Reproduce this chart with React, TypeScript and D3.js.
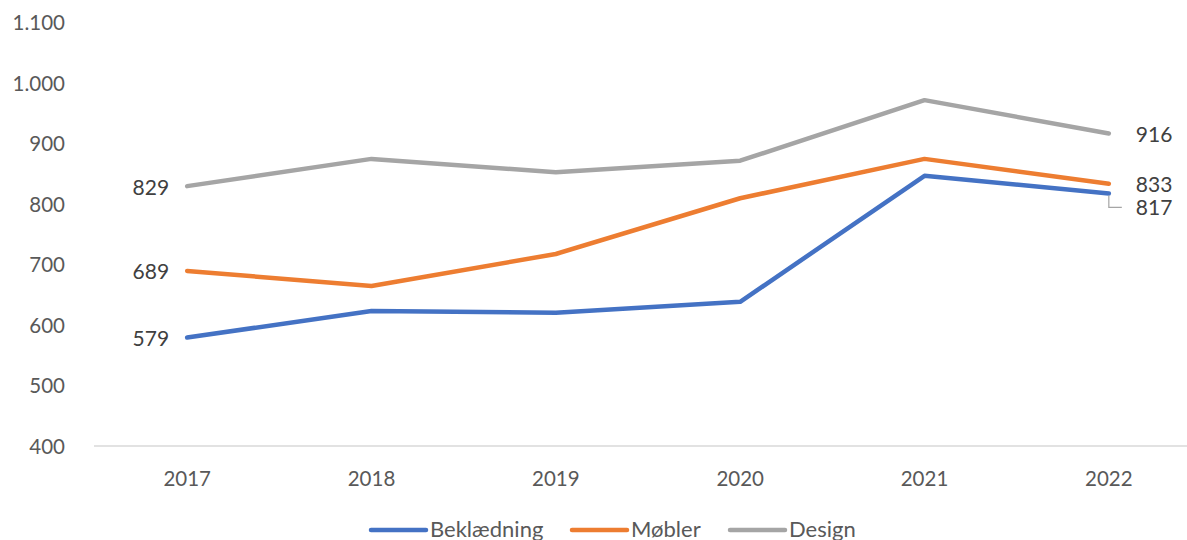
import React from "react";
import * as d3 from "d3";

const years = ["2017", "2018", "2019", "2020", "2021", "2022"];
const beklaedning = [579, 623, 620, 638, 846, 817];
const mobler = [689, 664, 717, 809, 874, 833];
const design = [829, 874, 852, 871, 971, 916];
const yTicks = [400, 500, 600, 700, 800, 900, 1000, 1100];
const seriesNames = ["Beklædning", "Møbler", "Design"];
const seriesColors = ["#4472C4", "#ED7D31", "#A5A5A5"];

const W = 1187;
const H = 540;
const FONT = "Lato, 'Open Sans', sans-serif";

export default function App() {
  const series = [beklaedning, mobler, design];
  const x = d3.scaleBand<string>().domain(years).range([95, 1201]);
  const y = d3.scaleLinear().domain([400, 1100]).range([446, 22]);
  const cx = (yr: string) => (x(yr) as number) + x.bandwidth() / 2;
  const fmt = (v: number) => d3.format(",")(v).replace(/,/g, ".");
  const line = d3
    .line<number>()
    .x((_, i) => cx(years[i]))
    .y((d) => y(d));

  const last = years.length - 1;
  const rightLabelDy = [13, 0, 0];
  const legendX = [371, 572, 730];

  return (
    <svg
      width={W}
      height={H}
      style={{ position: "absolute", left: 0, top: 0, background: "#fff" }}
      fontFamily={FONT}
    >
      {yTicks.map((t) => (
        <text
          key={t}
          x={65}
          y={y(t)}
          textAnchor="end"
          dominantBaseline="central"
          fontSize={20.5}
          fill="#595959"
        >
          {fmt(t)}
        </text>
      ))}
      <line x1={94} x2={1201} y1={y(400)} y2={y(400)} stroke="#D9D9D9" strokeWidth={1.5} />
      {years.map((yr) => (
        <text
          key={yr}
          x={cx(yr)}
          y={478}
          textAnchor="middle"
          dominantBaseline="central"
          fontSize={20.5}
          fill="#595959"
        >
          {yr}
        </text>
      ))}
      {series.map((s, i) => (
        <path
          key={i}
          d={line(s) || ""}
          fill="none"
          stroke={seriesColors[i]}
          strokeWidth={4.5}
          strokeLinejoin="round"
          strokeLinecap="round"
        />
      ))}
      {series.map((s, i) => (
        <text
          key={"l" + i}
          x={cx(years[0]) - 18}
          y={y(s[0])}
          textAnchor="end"
          dominantBaseline="central"
          fontSize={21}
          fill="#404040"
        >
          {s[0]}
        </text>
      ))}
      {series.map((s, i) => (
        <text
          key={"r" + i}
          x={cx(years[last]) + 27}
          y={y(s[last]) + rightLabelDy[i]}
          textAnchor="start"
          dominantBaseline="central"
          fontSize={21}
          fill="#404040"
        >
          {s[last]}
        </text>
      ))}
      <polyline
        points={`${cx(years[last])},${y(beklaedning[last]) + 2} ${cx(years[last])},${y(beklaedning[last]) + 14} ${cx(years[last]) + 13},${y(beklaedning[last]) + 14}`}
        fill="none"
        stroke="#A5A5A5"
        strokeWidth={1.2}
      />
      {seriesNames.map((n, i) => (
        <g key={n}>
          <line
            x1={legendX[i]}
            x2={legendX[i] + 55}
            y1={530}
            y2={530}
            stroke={seriesColors[i]}
            strokeWidth={4.5}
            strokeLinecap="round"
          />
          <text
            x={legendX[i] + 59}
            y={537}
            fontSize={22}
            fill="#595959"
          >
            {n}
          </text>
        </g>
      ))}
    </svg>
  );
}
